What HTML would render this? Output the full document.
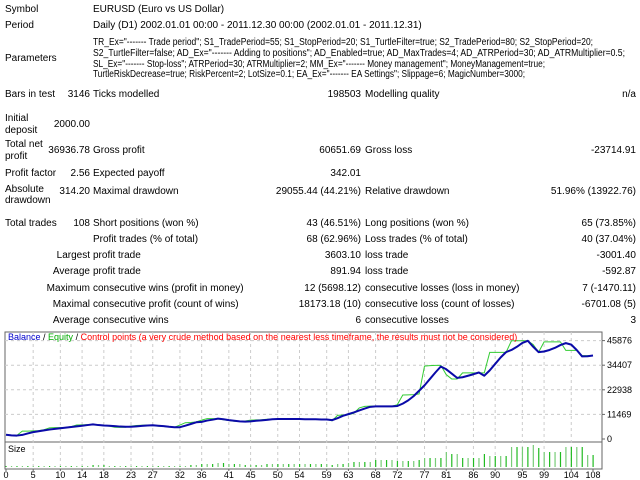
<!DOCTYPE html>
<html><head><meta charset="utf-8"><style>
html,body{margin:0;padding:0;background:#fff;}
svg{display:block;font-family:"Liberation Sans",sans-serif;font-size:10px;}
</style></head><body>
<svg id="page" width="640" height="480" viewBox="0 0 640 480" xmlns="http://www.w3.org/2000/svg">
<g id="report" fill="#000">
<text x="5" y="12">Symbol</text>
<text x="93" y="12">EURUSD (Euro vs US Dollar)</text>
<text x="5" y="28">Period</text>
<text x="93" y="28">Daily (D1) 2002.01.01 00:00 - 2011.12.30 00:00 (2002.01.01 - 2011.12.31)</text>
<text x="5" y="61">Parameters</text>
<g>
<text x="93" y="45" textLength="500" lengthAdjust="spacingAndGlyphs">TR_Ex="------- Trade period"; S1_TradePeriod=55; S1_StopPeriod=20; S1_TurtleFilter=true; S2_TradePeriod=80; S2_StopPeriod=20;</text>
<text x="93" y="56" textLength="532" lengthAdjust="spacingAndGlyphs">S2_TurtleFilter=false; AD_Ex="------- Adding to positions"; AD_Enabled=true; AD_MaxTrades=4; AD_ATRPeriod=30; AD_ATRMultiplier=0.5;</text>
<text x="93" y="67" textLength="452" lengthAdjust="spacingAndGlyphs">SL_Ex="------- Stop-loss"; ATRPeriod=30; ATRMultiplier=2; MM_Ex="------- Money management"; MoneyManagement=true;</text>
<text x="93" y="77" textLength="432" lengthAdjust="spacingAndGlyphs">TurtleRiskDecrease=true; RiskPercent=2; LotSize=0.1; EA_Ex="------- EA Settings"; Slippage=6; MagicNumber=3000;</text>
</g>
<text x="5" y="97">Bars in test</text><text x="90" y="97" text-anchor="end">3146</text>
<text x="93" y="97">Ticks modelled</text><text x="361" y="97" text-anchor="end">198503</text>
<text x="365" y="97">Modelling quality</text><text x="636" y="97" text-anchor="end">n/a</text>
<text x="5" y="121">Initial</text><text x="5" y="133">deposit</text><text x="90" y="127" text-anchor="end">2000.00</text>
<text x="5" y="147">Total net</text><text x="5" y="159">profit</text><text x="90" y="153" text-anchor="end">36936.78</text>
<text x="93" y="153">Gross profit</text><text x="361" y="153" text-anchor="end">60651.69</text>
<text x="365" y="153">Gross loss</text><text x="636" y="153" text-anchor="end">-23714.91</text>
<text x="5" y="176">Profit factor</text><text x="90" y="176" text-anchor="end">2.56</text>
<text x="93" y="176">Expected payoff</text><text x="361" y="176" text-anchor="end">342.01</text>
<text x="5" y="192">Absolute</text><text x="5" y="203">drawdown</text><text x="90" y="194" text-anchor="end">314.20</text>
<text x="93" y="194">Maximal drawdown</text><text x="361" y="194" text-anchor="end">29055.44 (44.21%)</text>
<text x="365" y="194">Relative drawdown</text><text x="636" y="194" text-anchor="end">51.96% (13922.76)</text>
<text x="5" y="226">Total trades</text><text x="90" y="226" text-anchor="end">108</text>
<text x="93" y="226">Short positions (won %)</text><text x="361" y="226" text-anchor="end">43 (46.51%)</text>
<text x="365" y="226">Long positions (won %)</text><text x="636" y="226" text-anchor="end">65 (73.85%)</text>
<text x="93" y="242">Profit trades (% of total)</text><text x="361" y="242" text-anchor="end">68 (62.96%)</text>
<text x="365" y="242">Loss trades (% of total)</text><text x="636" y="242" text-anchor="end">40 (37.04%)</text>
<text x="90" y="258" text-anchor="end">Largest</text><text x="93" y="258">profit trade</text><text x="361" y="258" text-anchor="end">3603.10</text>
<text x="365" y="258">loss trade</text><text x="636" y="258" text-anchor="end">-3001.40</text>
<text x="90" y="274" text-anchor="end">Average</text><text x="93" y="274">profit trade</text><text x="361" y="274" text-anchor="end">891.94</text>
<text x="365" y="274">loss trade</text><text x="636" y="274" text-anchor="end">-592.87</text>
<text x="90" y="291" text-anchor="end">Maximum</text><text x="93" y="291">consecutive wins (profit in money)</text><text x="361" y="291" text-anchor="end">12 (5698.12)</text>
<text x="365" y="291">consecutive losses (loss in money)</text><text x="636" y="291" text-anchor="end">7 (-1470.11)</text>
<text x="90" y="307" text-anchor="end">Maximal</text><text x="93" y="307">consecutive profit (count of wins)</text><text x="361" y="307" text-anchor="end">18173.18 (10)</text>
<text x="365" y="307">consecutive loss (count of losses)</text><text x="636" y="307" text-anchor="end">-6701.08 (5)</text>
<text x="90" y="323" text-anchor="end">Average</text><text x="93" y="323">consecutive wins</text><text x="361" y="323" text-anchor="end">6</text>
<text x="365" y="323">consecutive losses</text><text x="636" y="323" text-anchor="end">3</text>
</g>
<g id="chart"></g>
</svg>
<script>
const balance=[2000,1700,1600,1900,2600,3200,3600,4000,4400,4700,5000,5300,5600,5900,6200,6500,6800,6500,6300,6200,6000,5800,5700,5700,5900,6100,6300,6400,6200,6000,5700,5500,5500,6200,7000,7800,8000,8600,9000,9500,9200,8800,8500,8200,8100,8200,8500,8700,8900,9200,9300,9300,9300,9300,9300,9200,9200,9200,9100,9100,8800,9700,10800,11600,12400,13300,14200,15000,15200,15200,15200,15200,15400,16500,18000,20000,22500,25000,28000,31000,33800,32500,30500,28500,28800,29500,30200,31000,29500,32000,35000,38000,40500,41500,43000,44800,45800,43000,40500,40800,41500,42500,43800,44700,44000,41500,38500,38600,38937];
const equity=[2000,1800,1700,3700,3700,3800,3900,4300,5200,5300,5300,5400,5800,6500,6600,6700,6700,6400,6200,6000,5500,5400,5500,6000,6300,6400,6500,6300,6000,5800,5600,5500,6500,7600,7700,8000,8800,9500,9500,9400,9000,8600,8300,8200,8400,8800,8900,9000,9200,9300,9300,9300,9300,9300,9300,9200,9200,9200,9100,9100,8500,11000,11200,11300,12000,14500,15200,15300,15300,15300,15300,15300,16000,20500,20600,20700,21000,34000,34200,34300,34300,30000,28000,28000,30800,30800,30800,30800,30800,40400,40400,40400,40400,45800,45800,45800,45800,44000,40500,45300,45300,45300,45300,41300,41300,41300,38900,38900,38937];
const sizes=[0.1,0.1,0.1,0.1,0.1,0.1,0.1,0.1,0.1,0.1,0.1,0.1,0.1,0.1,0.1,0.1,0.2,0.2,0.2,0.1,0.1,0.1,0.1,0.1,0.1,0.1,0.1,0.1,0.1,0.1,0.1,0.1,0.1,0.1,0.2,0.2,0.3,0.3,0.3,0.4,0.4,0.3,0.3,0.3,0.2,0.2,0.2,0.2,0.3,0.3,0.3,0.3,0.3,0.3,0.3,0.3,0.3,0.3,0.3,0.3,0.2,0.3,0.3,0.4,0.5,0.5,0.5,0.5,0.7,0.7,0.7,0.7,0.6,0.6,0.6,0.6,0.7,0.9,0.9,0.9,0.9,1.5,1.3,1.3,0.9,0.9,0.9,0.9,1.3,1.1,1.1,1.1,1.1,2.0,2.0,2.0,2.0,2.2,1.9,1.5,1.5,1.5,1.5,2.0,2.0,2.0,2.0,1.2,1.2];
const yTicks=[0,11469,22938,34407,45876];
const xTicks=[0,5,10,14,18,23,27,32,36,41,45,50,54,59,63,68,72,77,81,86,90,95,99,104,108];
const NS='http://www.w3.org/2000/svg';
const g=document.getElementById('chart');
const L=5,R=602,T=332,MB=442,SB=469;
const xs=i=>6+i*(593-6)/108;
const ys=v=>439-v*(24.6/11469);
const hs=v=>v*10;
function mk(tag,attrs,parent){const e=document.createElementNS(NS,tag);for(const k in attrs)e.setAttribute(k,attrs[k]);(parent||g).appendChild(e);return e;}
let f1=mk('rect',{x:L,y:T,width:R-L,height:MB-T,fill:'#fff',stroke:'#666','stroke-width':1});


let f2=mk('rect',{x:L,y:MB,width:R-L,height:SB-MB,fill:'#fff',stroke:'#666','stroke-width':1});


yTicks.forEach(v=>{const y=ys(v);
 if(v>0){const l=mk('line',{x1:L,x2:R,y1:y,y2:y,stroke:'#ccc','stroke-dasharray':'3,3'});
 
 }
 const tk=mk('line',{x1:R,x2:R+3,y1:y,y2:y,stroke:'#666'});
 
 
 const t=mk('text',{x:R+5,y:y+3,'font-size':'9px',fill:'#000'});t.textContent=v;
 
 
});
xTicks.forEach(v=>{const x=xs(v);
 if(v>0&&v<108){const l=mk('line',{x1:x,x2:x,y1:T,y2:SB,stroke:'#ccc','stroke-dasharray':'3,3'});
 
 }
 const tk=mk('line',{x1:x,x2:x,y1:SB,y2:SB+2,stroke:'#666'});
 
 
 const t=mk('text',{x:x,y:478,'font-size':'9px','text-anchor':'middle',fill:'#000'});t.textContent=v;
 
 
});
sizes.forEach((v,i)=>{const x=xs(i);const h=Math.max(1,hs(v));
 const b=mk('rect',{x:x-0.5,y:467-h,width:1.2,height:h,fill:i%2?'#7c7':'#2b2'});
 
 
});
const st=mk('text',{x:8,y:452,'font-size':'9px',fill:'#000'});st.textContent='Size';


const ep=mk('polyline',{points:equity.map((v,i)=>xs(i)+','+ys(v)).join(' '),fill:'none',stroke:'#3c3','stroke-width':1});


const bp=mk('polyline',{points:balance.map((v,i)=>xs(i)+','+ys(v)).join(' '),fill:'none',stroke:'#0a0aa8','stroke-width':2,'stroke-linejoin':'round'});


const lg=mk('text',{x:8,y:340,'font-size':'9px'});


[['Balance','#00c'],[' / ','#000'],['Equity','#0a0'],[' / ','#000'],['Control points (a very crude method based on the nearest less timeframe, the results must not be considered)','#f00']].forEach(([s,c])=>{const ts=mk('tspan',{fill:c},lg);ts.textContent=s;});
</script>
</body></html>
